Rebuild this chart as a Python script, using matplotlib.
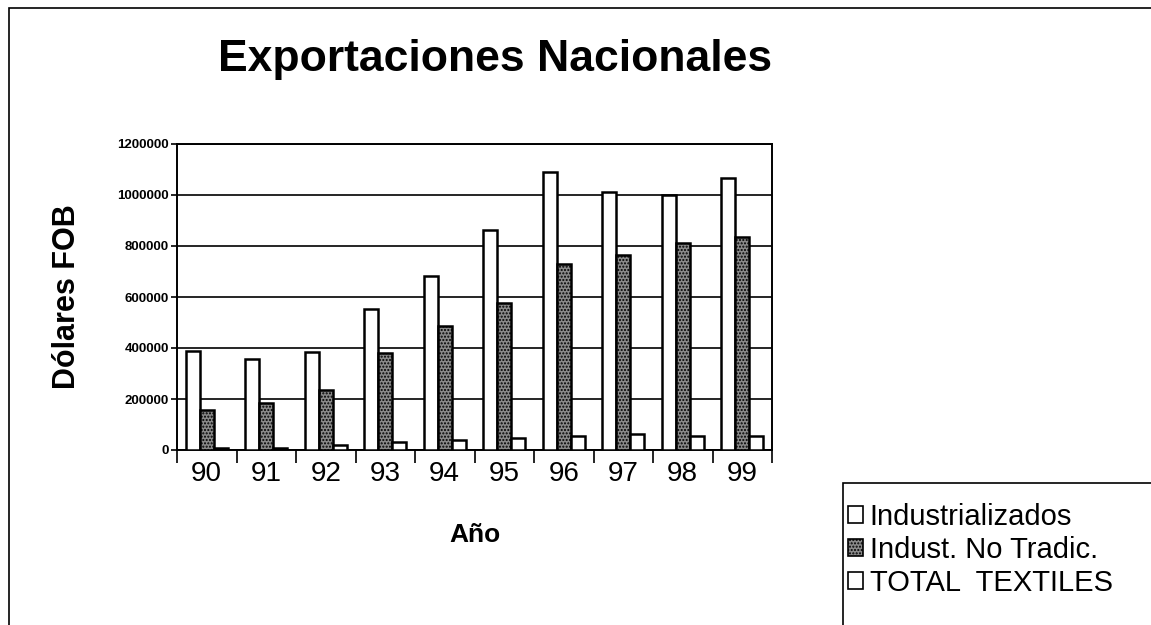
# -*- coding: utf-8 -*-
import matplotlib
matplotlib.use('Agg')
import matplotlib.pyplot as plt
from matplotlib.patches import Rectangle
import numpy as np

plt.rcParams['font.family'] = ['Liberation Sans', 'DejaVu Sans']
plt.rcParams['hatch.linewidth'] = 1.0

anios = ['90', '91', '92', '93', '94', '95', '96', '97', '98', '99']
industrializados = [389000, 357000, 384000, 551000, 684000, 861000, 1089000, 1012000, 1000000, 1066000]
no_tradicionales = [157000, 183000, 237000, 380000, 486000, 577000, 730000, 764000, 812000, 835000]
total_textiles = [9000, 8000, 19000, 31000, 39000, 47000, 55000, 62000, 55000, 55000]
series = ['Industrializados', 'Indust. No Tradic.', 'TOTAL  TEXTILES']

W, H = 1151, 625
fig = plt.figure(figsize=(W / 100, H / 100), dpi=100)
fig.patch.set_facecolor('white')

# marco exterior del grafico
fig.add_artist(Rectangle((9 / W, 1 - 700 / H), 1200 / W, 692 / H, transform=fig.transFigure,
                         fill=False, edgecolor='black', linewidth=1.2))

ax = fig.add_axes([177 / W, 1 - 450 / H, 595 / W, 306 / H])
x = np.arange(len(anios))
w = 0.233
b1 = ax.bar(x - w, industrializados, w, color='white', edgecolor='black', linewidth=1.8,
            label=series[0], zorder=3)
b2 = ax.bar(x, no_tradicionales, w, color='#8a8a8a', edgecolor='black', linewidth=1.8,
            hatch='.....', label=series[1], zorder=3)
b3 = ax.bar(x + w, total_textiles, w, color='white', edgecolor='black', linewidth=1.8,
            label=series[2], zorder=3)

ax.set_xlim(-0.5, len(anios) - 0.5)
ax.set_ylim(0, 1200000)
ax.set_yticks(np.arange(0, 1200001, 200000))
ax.set_yticklabels([str(v) for v in range(0, 1200001, 200000)], fontsize=9.5, fontweight='bold')
ax.yaxis.grid(True, color='black', linewidth=1.2, zorder=0)
ax.set_axisbelow(True)

ax.set_xticks(x)
ax.set_xticklabels(anios, fontsize=20)
ax.set_xticks(np.arange(-0.5, len(anios), 1), minor=True)
ax.tick_params(axis='x', which='major', length=0, pad=8)
ax.tick_params(axis='x', which='minor', length=9, width=1.2, direction='out')
ax.tick_params(axis='y', length=4, width=1.2, direction='out', pad=2)
for s in ax.spines.values():
    s.set_linewidth(1.4)
    s.set_color('black')

ax.set_xlabel('Año', fontsize=19, fontweight='bold', labelpad=26)
ax.set_ylabel('Dólares FOB', fontsize=22, fontweight='bold', labelpad=25)

fig.text(495 / W, 1 - 60 / H, 'Exportaciones Nacionales', fontsize=32, fontweight='bold',
         ha='center', va='center')

# leyenda
fig.add_artist(Rectangle((843 / W, 1 - 700 / H), 400 / W, 217 / H, transform=fig.transFigure,
                         fill=False, edgecolor='black', linewidth=1.2))
leg = fig.legend(handles=[b1, b2, b3], labels=series, loc='upper left',
                 bbox_to_anchor=(845 / W, 1 - 500 / H), frameon=False, fontsize=21,
                 handlelength=0.5, handleheight=0.5, handletextpad=0.25,
                 labelspacing=0.17, borderpad=0.1, borderaxespad=0)
for h in leg.legend_handles:
    h.set_linewidth(1.2)

fig.savefig('out.png', dpi=100)
